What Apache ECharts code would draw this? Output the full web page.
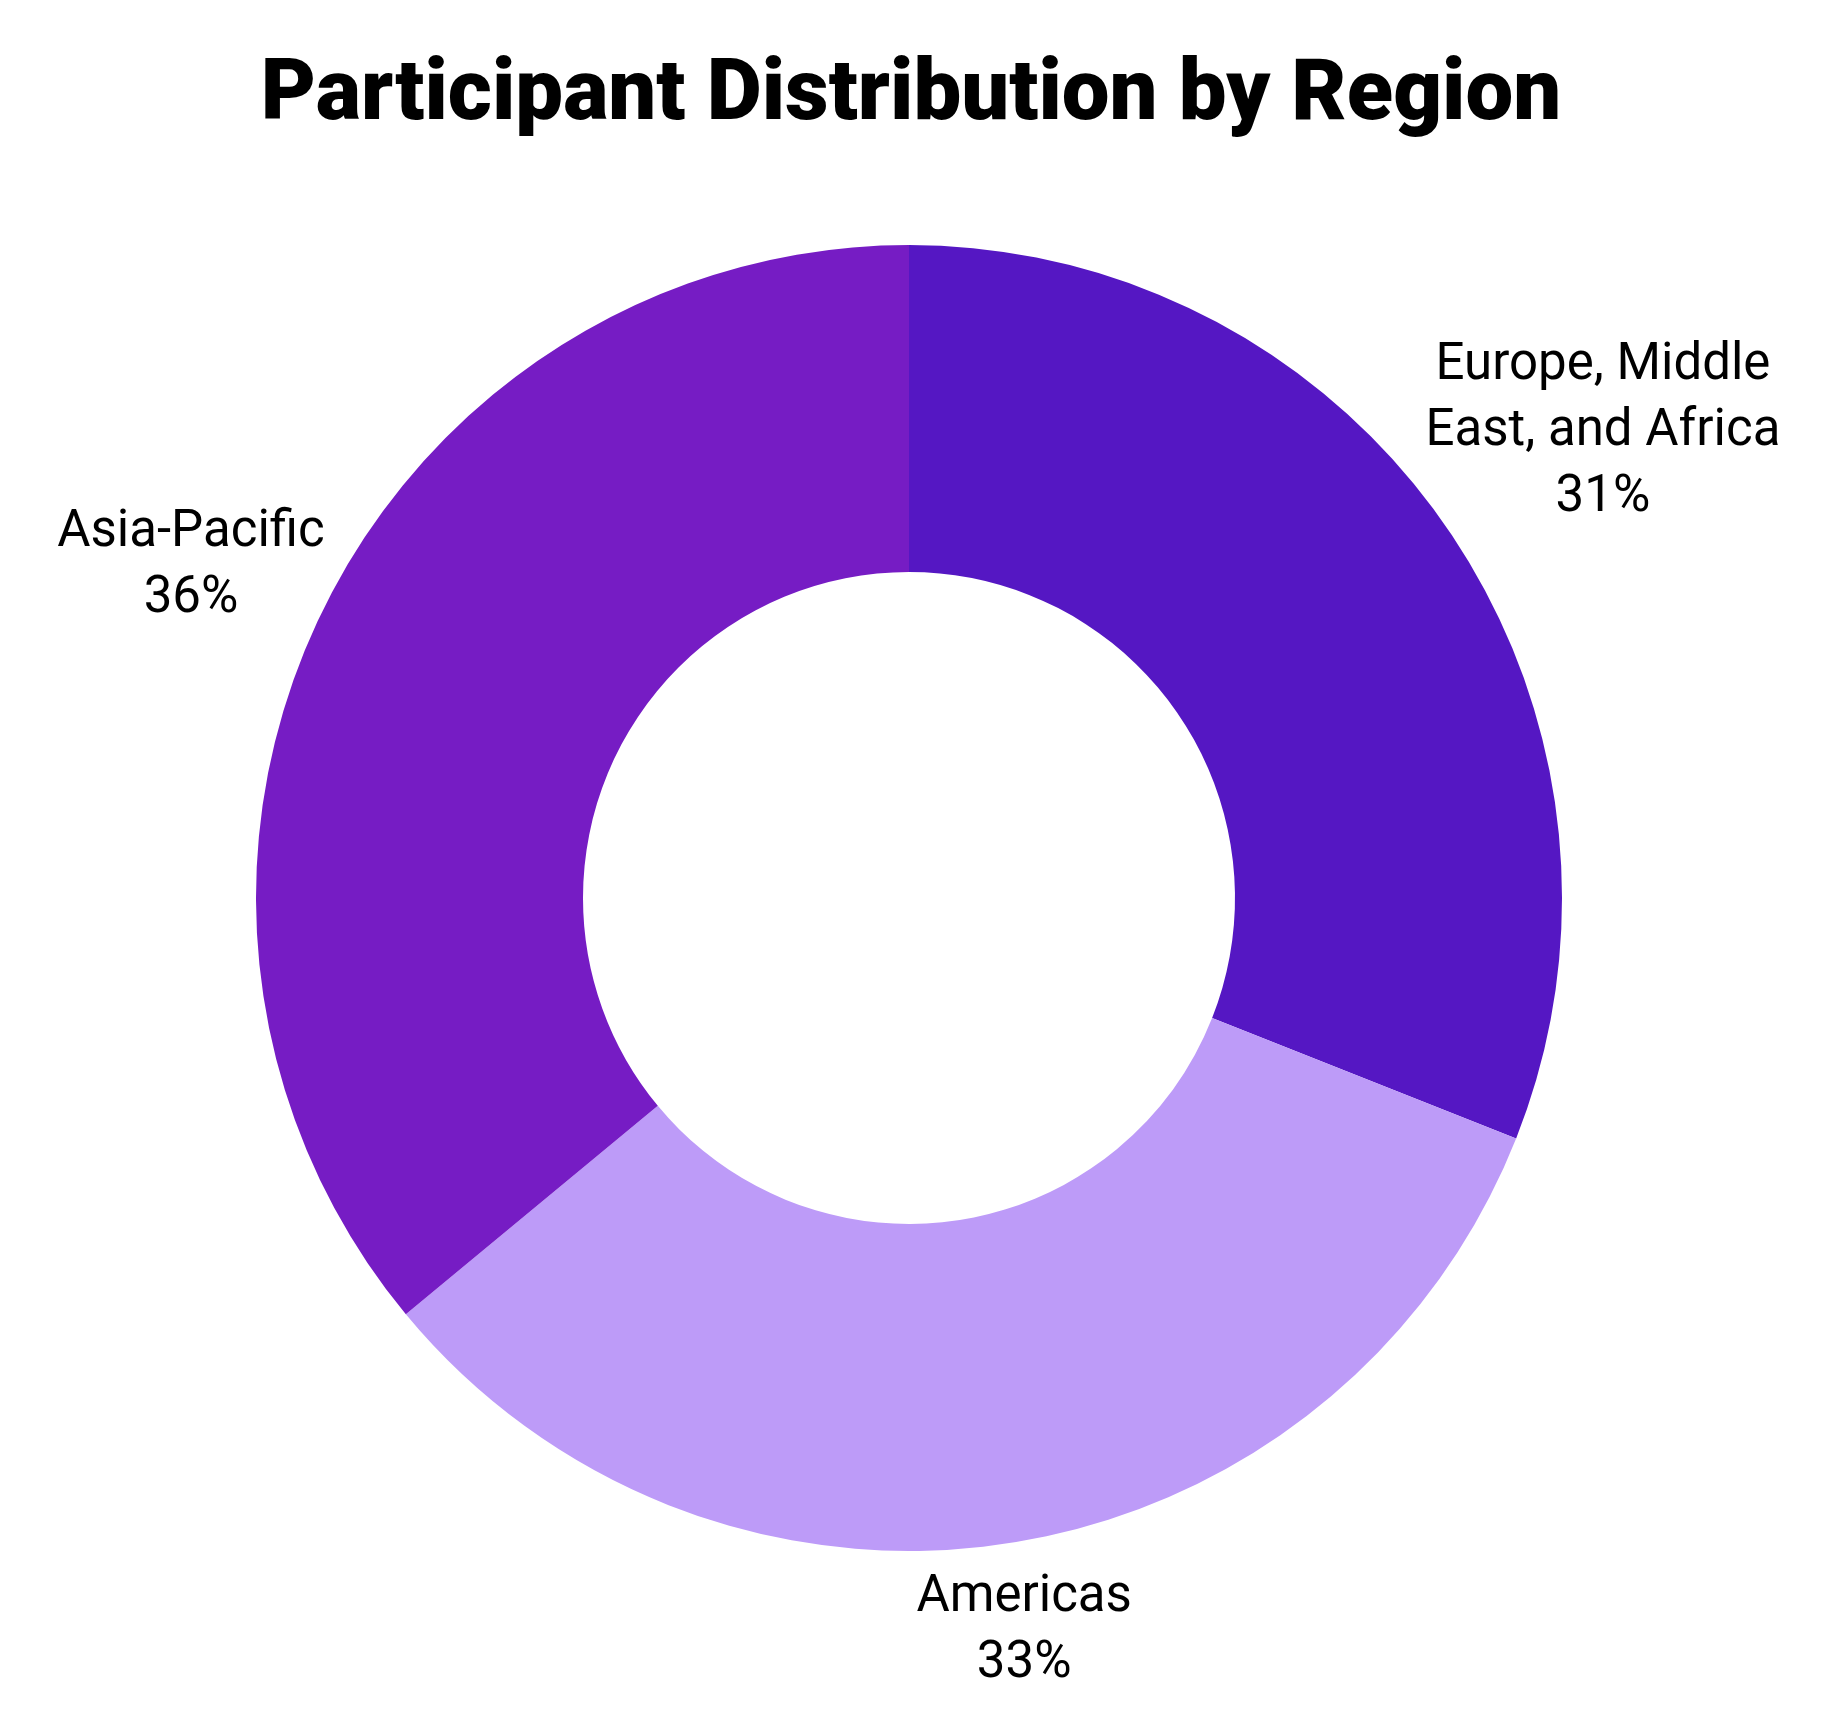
<!DOCTYPE html>
<html>
<head>
<meta charset="utf-8">
<style>
  html, body { margin: 0; padding: 0; background: #ffffff; }
  #chart { width: 1848px; height: 1710px; }
</style>
<script src="https://cdn.jsdelivr.net/npm/echarts@6/dist/echarts.min.js"></script>
</head>
<body>
<div id="chart"></div>
<script>
// ---- data ----
var titleText = 'Participant Distribution by Region';
var categories = ['Europe, Middle\nEast, and Africa', 'Americas', 'Asia-Pacific'];
var shares = [31, 33, 36];
var sliceColors = ['#5517C3', '#BD9BF8', '#761CC4'];

var chart = echarts.init(document.getElementById('chart'), null, { renderer: 'canvas' });

var pieData = categories.map(function (name, i) {
  return { name: name, value: shares[i], itemStyle: { color: sliceColors[i] } };
});

var LABEL_BASE = 13;
var LABEL_SCALE = 0.855;
var LABEL_DY = 6;

var option = {
  backgroundColor: '#ffffff',
  animation: false,
  title: {
    text: titleText,
    left: 906,
    textAlign: 'center',
    top: 50,
    textStyle: {
      fontFamily: 'Roboto',
      fontWeight: 900,
      fontSize: 85,
      color: '#000000'
    }
  },
  series: [{
    type: 'pie',
    center: [909, 898],
    radius: [326, 653],
    startAngle: 90,
    clockwise: true,
    silent: true,
    data: pieData,
    label: {
      show: true,
      position: 'outside',
      formatter: function (p) { return p.name + '\n' + p.value + '%'; },
      fontFamily: 'Roboto',
      fontSize: 51,
      lineHeight: 66,
      color: '#000000'
    },
    labelLine: {
      show: true,
      length: 20,
      length2: 0,
      lineStyle: { opacity: 0, width: 0 }
    },
    labelLayout: function (params) {
      var pts = params.labelLinePoints;
      if (!pts || pts.length < 2) { return { align: 'center' }; }
      var p0 = pts[0], p1 = pts[1];
      var ux = p1[0] - p0[0], uy = p1[1] - p0[1];
      var n = Math.sqrt(ux * ux + uy * uy) || 1;
      ux /= n; uy /= n;
      var w = params.labelRect.width, h = params.labelRect.height;
      var s = Math.abs(ux) * w / 2 + Math.abs(uy) * h / 2;
      var d = LABEL_BASE + LABEL_SCALE * s;
      return { x: p0[0] + ux * d, y: p0[1] + uy * d + LABEL_DY, align: 'center', verticalAlign: 'middle' };
    }
  }]
};

chart.setOption(option);
</script>
</body>
</html>
